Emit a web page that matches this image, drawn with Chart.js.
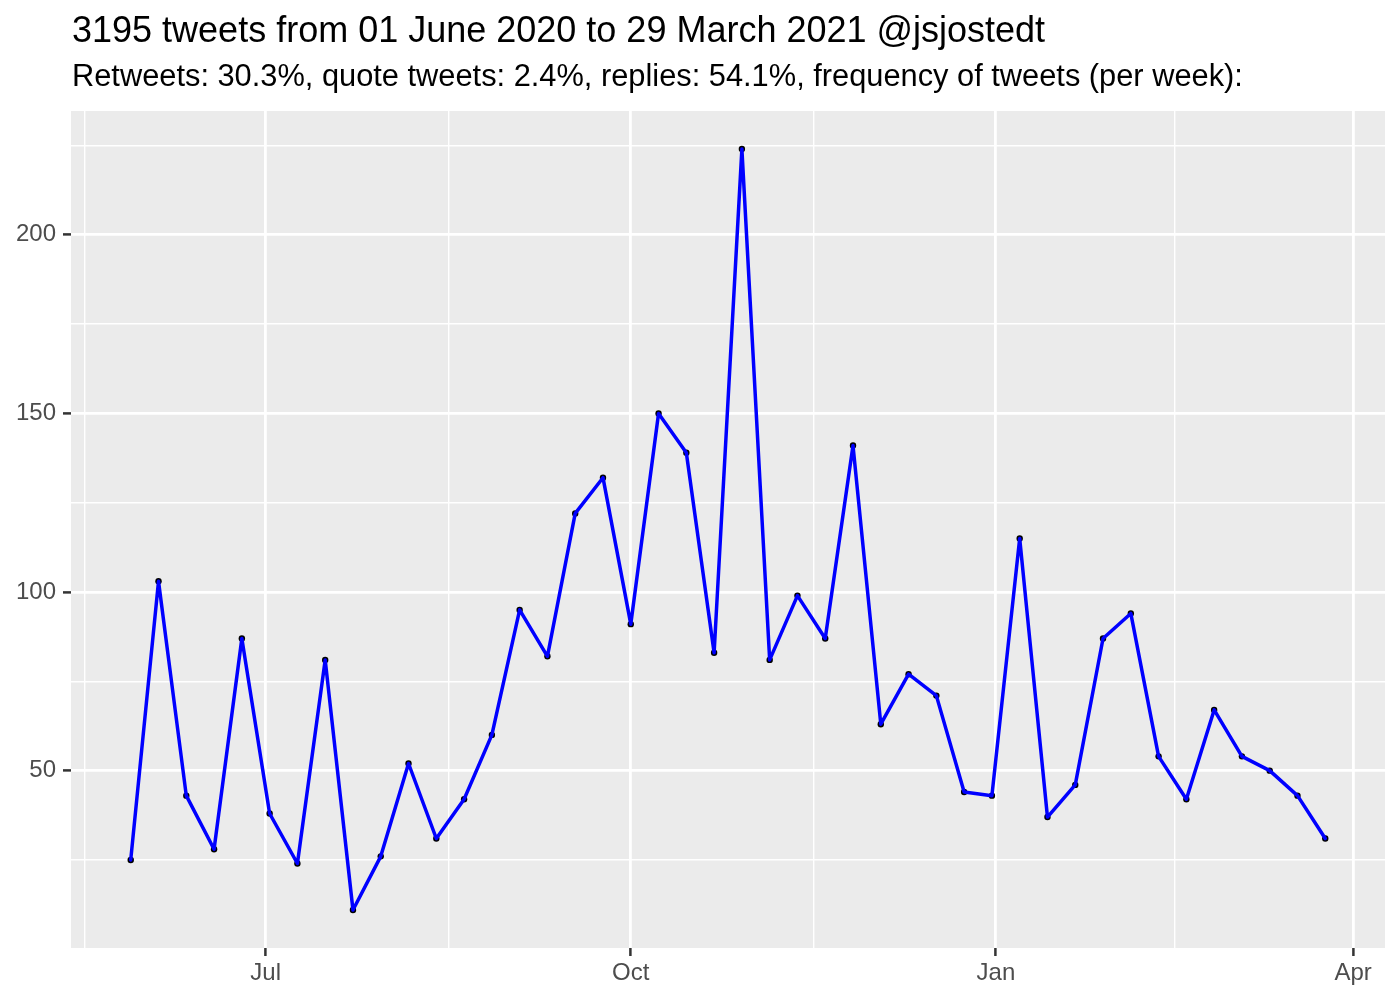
<!DOCTYPE html>
<html>
<head>
<meta charset="utf-8">
<script src="https://cdn.jsdelivr.net/npm/chart.js@4.4.0/dist/chart.umd.min.js"></script>
<style>
    body { margin: 0; background: #fff; }
    #wrap { position: relative; width: 1400px; height: 1000px; }
    #chart { position: absolute; left: 0; top: 0; }
    .ttl { position: absolute; left: 72px; font-family: "Liberation Sans", Arial, sans-serif; color: #000; white-space: nowrap; line-height: 1; }
    #title { top: 12px; font-size: 36px; }
    #subtitle { top: 61px; font-size: 30.8px; }
</style>
</head>
<body>
<div id="wrap">
    <canvas id="chart" width="1400" height="1000"></canvas>
    <div class="ttl" id="title">3195 tweets from 01 June 2020 to 29 March 2021 @jsjostedt</div>
    <div class="ttl" id="subtitle">Retweets: 30.3%, quote tweets: 2.4%, replies: 54.1%, frequency of tweets (per week):</div>
</div>
<script>
const weekStarts = [
    '2020-05-28', '2020-06-04', '2020-06-11', '2020-06-18', '2020-06-25',
    '2020-07-02', '2020-07-09', '2020-07-16', '2020-07-23', '2020-07-30',
    '2020-08-06', '2020-08-13', '2020-08-20', '2020-08-27',
    '2020-09-03', '2020-09-10', '2020-09-17', '2020-09-24',
    '2020-10-01', '2020-10-08', '2020-10-15', '2020-10-22', '2020-10-29',
    '2020-11-05', '2020-11-12', '2020-11-19', '2020-11-26',
    '2020-12-03', '2020-12-10', '2020-12-17', '2020-12-24', '2020-12-31',
    '2021-01-07', '2021-01-14', '2021-01-21', '2021-01-28',
    '2021-02-04', '2021-02-11', '2021-02-18', '2021-02-25',
    '2021-03-04', '2021-03-11', '2021-03-18', '2021-03-25'
];
const tweetCounts = [
    25, 103, 43, 28, 87,
    38, 24, 81, 11, 26,
    52, 31, 42, 60,
    95, 82, 122, 132,
    91, 150, 139, 83, 224,
    81, 99, 87, 141,
    63, 77, 71, 44, 43,
    115, 37, 46, 87,
    94, 54, 42, 67,
    54, 50, 43, 31
];
const xTickDates = ['2020-04-01', '2020-07-01', '2020-10-01', '2021-01-01', '2021-04-01'];
const xTickLabels = ['', 'Jul', 'Oct', 'Jan', 'Apr'];
const yTickValues = [50, 100, 150, 200];

function dayNumber(s) {
    return Date.parse(s + 'T00:00:00Z') / 86400000;
}

const points = weekStarts.map((d, i) => ({ x: dayNumber(d), y: tweetCounts[i] }));

// ggplot style 5% expansion
const xs = points.map(p => p.x);
const xMin0 = Math.min(...xs), xMax0 = Math.max(...xs);
const xPad = (xMax0 - xMin0) * 0.05;
const yMin0 = Math.min(...tweetCounts), yMax0 = Math.max(...tweetCounts);
const yPad = (yMax0 - yMin0) * 0.05;

const xMajor = xTickDates.map(dayNumber);
const xMinor = [];
for (let i = 0; i < xMajor.length - 1; i++) xMinor.push((xMajor[i] + xMajor[i + 1]) / 2);
const yStep = yTickValues[1] - yTickValues[0];
const yMinor = [yTickValues[0] - yStep / 2].concat(yTickValues.map(v => v + yStep / 2));

const xMin = xMin0 - xPad, xMax = xMax0 + xPad;
const yMin = yMin0 - yPad, yMax = yMax0 + yPad;

const xTicks = xMajor.concat(xMinor).filter(v => v >= xMin && v <= xMax).sort((a, b) => a - b);
const yTicks = yTickValues.concat(yMinor).filter(v => v >= yMin && v <= yMax).sort((a, b) => a - b);

function isMajor(scale, value) {
    if (scale.axis === 'x') return xMajor.some(v => Math.abs(v - value) < 1e-6);
    return yTickValues.includes(value);
}

const panelBg = {
    id: 'panelBg',
    beforeDraw(chart) {
        const a = chart.chartArea, ctx = chart.ctx;
        ctx.save();
        ctx.fillStyle = '#EBEBEB';
        ctx.fillRect(a.left, a.top, a.right - a.left, a.bottom - a.top);
        ctx.restore();
    }
};

function gridOpts() {
    return {
        color: '#FFFFFF',
        lineWidth: c => isMajor(c.scale, c.tick.value) ? 2.8 : 1.4,
        tickColor: c => isMajor(c.scale, c.tick.value) ? '#333333' : 'rgba(0,0,0,0)',
        tickWidth: 2.5,
        tickLength: 8,
        drawTicks: true
    };
}

const tickFont = { family: '"Liberation Sans", Arial, sans-serif', size: 24 };

new Chart(document.getElementById('chart'), {
    type: 'line',
    data: {
        datasets: [{
            data: points,
            borderColor: '#0000FF',
            borderWidth: 3.5,
            borderJoinStyle: 'round',
            borderCapStyle: 'round',
            pointRadius: 0,
            tension: 0,
            order: 0
        }, {
            data: points,
            showLine: false,
            pointRadius: 3.2,
            pointBackgroundColor: '#000000',
            pointBorderColor: '#000000',
            pointBorderWidth: 0,
            order: 1
        }]
    },
    plugins: [panelBg],
    options: {
        responsive: false,
        animation: false,
        devicePixelRatio: 1,
        layout: { padding: { top: 111, right: 15, bottom: 0, left: 0 } },
        plugins: {
            legend: { display: false },
            tooltip: { enabled: false }
        },
        scales: {
            x: {
                type: 'linear',
                min: xMin,
                max: xMax,
                afterBuildTicks: s => { s.ticks = xTicks.map(v => ({ value: v })); },
                afterFit: s => { s.height = 52; },
                grid: gridOpts(),
                border: { display: false },
                ticks: {
                    autoSkip: false,
                    maxRotation: 0,
                    padding: 3,
                    color: '#4D4D4D',
                    font: tickFont,
                    callback: v => {
                        const i = xMajor.findIndex(m => Math.abs(m - v) < 1e-6);
                        return i >= 0 ? xTickLabels[i] : '';
                    }
                }
            },
            y: {
                type: 'linear',
                min: yMin,
                max: yMax,
                afterBuildTicks: s => { s.ticks = yTicks.map(v => ({ value: v })); },
                afterFit: s => { s.width = 71; },
                grid: gridOpts(),
                border: { display: false },
                ticks: {
                    autoSkip: false,
                    padding: 7,
                    color: '#4D4D4D',
                    font: tickFont,
                    callback: v => yTickValues.includes(v) ? String(v) : ''
                }
            }
        }
    }
});
</script>
</body>
</html>
